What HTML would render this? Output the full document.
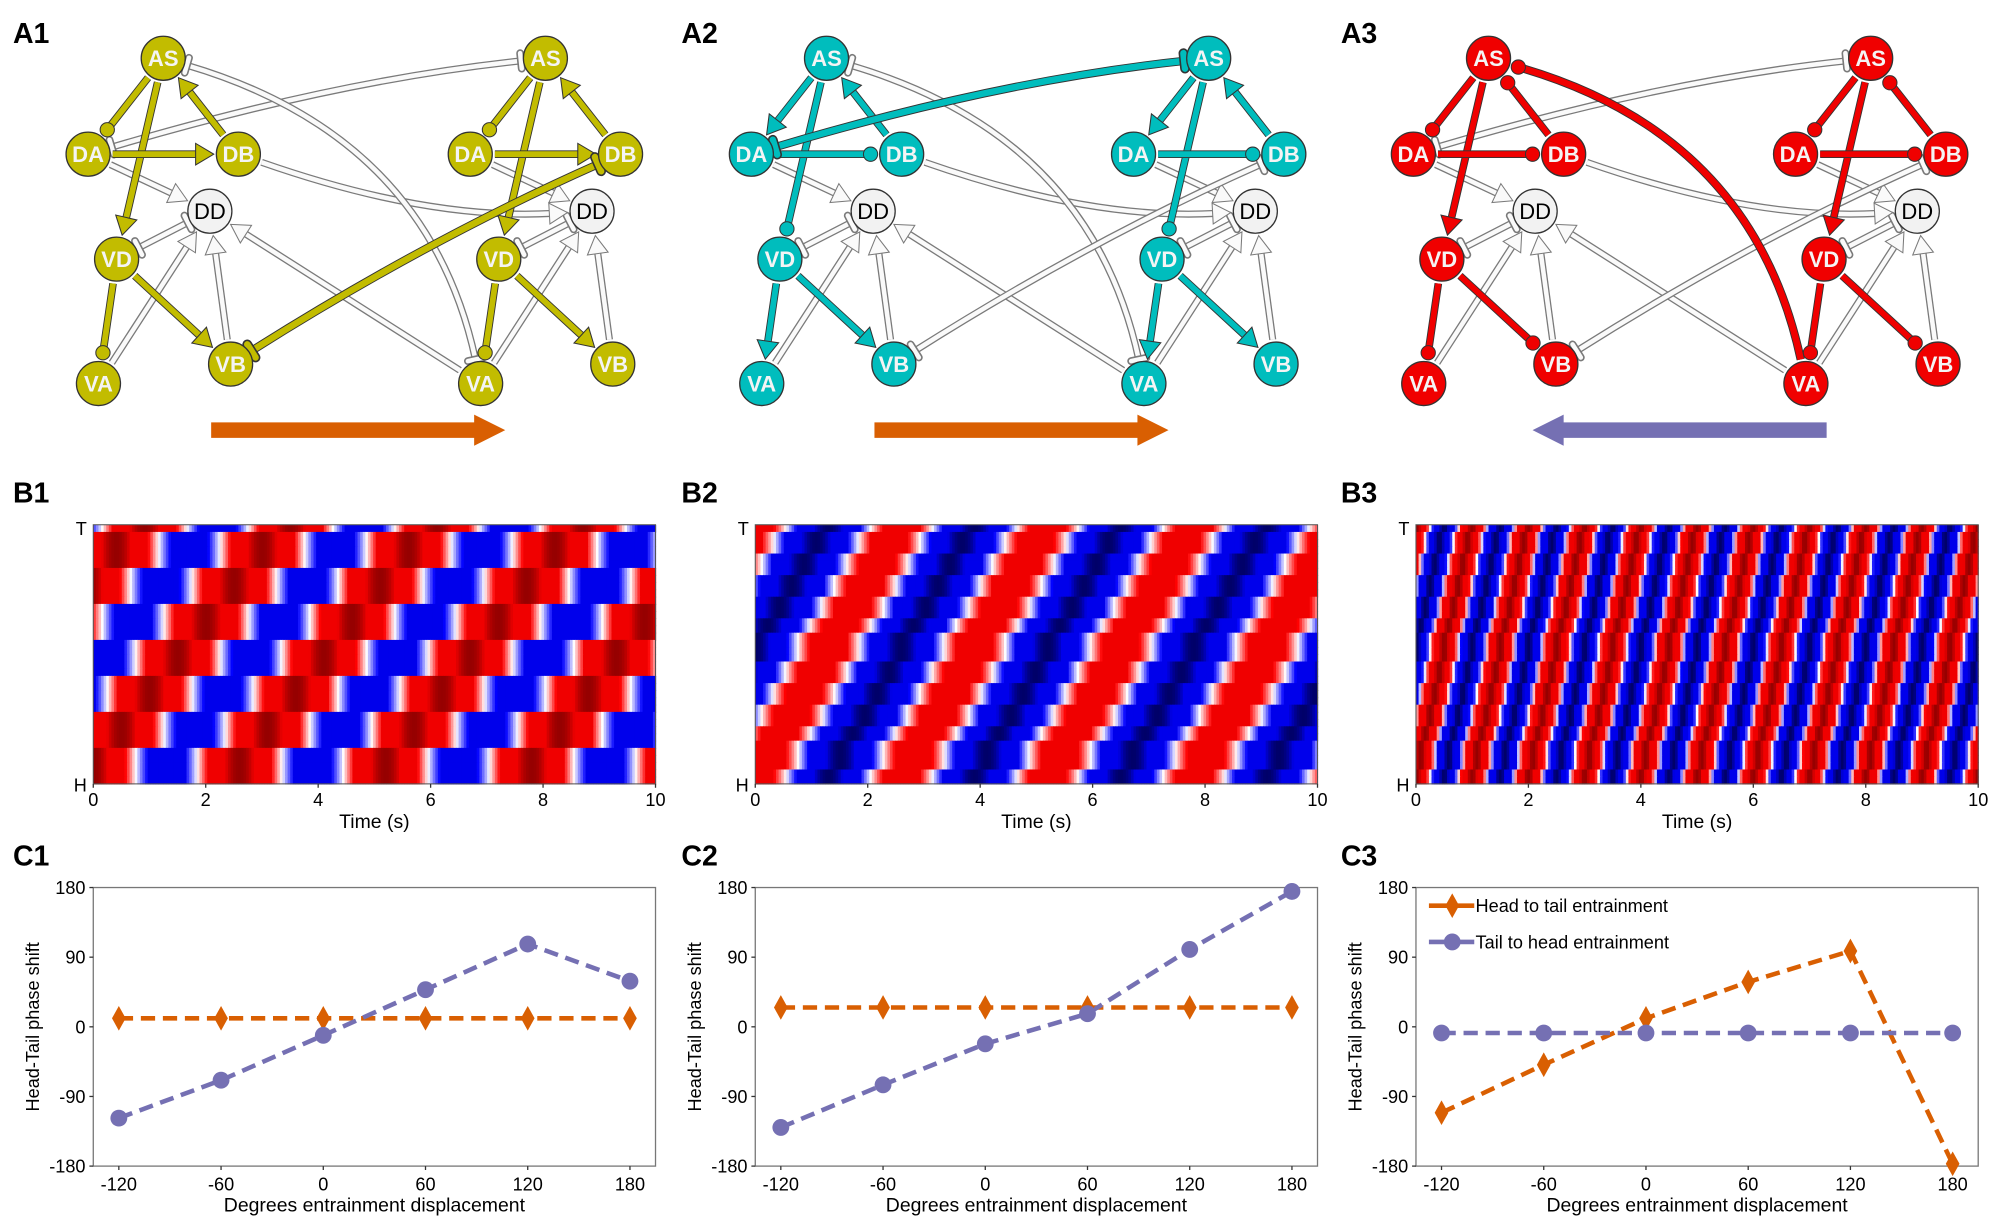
<!DOCTYPE html>
<html><head><meta charset="utf-8">
<style>
html,body{margin:0;padding:0;background:#fff;}
svg{display:block;font-family:"Liberation Sans",sans-serif;}
</style></head>
<body>
<svg id="fig" width="2008" height="1227" viewBox="0 0 1550 947" preserveAspectRatio="none" xmlns="http://www.w3.org/2000/svg">
  <g id="gray-layer"></g>
  <g id="color-layer"></g>
  <g id="node-layer"></g>
  <g id="heat-layer"></g>
  <g id="plot-layer"></g>
  <g id="label-layer" font-weight="bold" font-size="22" fill="#000">
    <text x="10" y="33">A1</text>
    <text x="526" y="33">A2</text>
    <text x="1035" y="33">A3</text>
    <text x="10" y="388">B1</text>
    <text x="526" y="388">B2</text>
    <text x="1035" y="388">B3</text>
    <text x="10" y="668">C1</text>
    <text x="526" y="668">C2</text>
    <text x="1035" y="668">C3</text>
  </g>
</svg>
<script>
// ===== Chart data (C panels) =====
const xCategories = [-120, -60, 0, 60, 120, 180];
const yTickLabels = [180, 90, 0, -90, -180];
const xTickLabels = [-120, -60, 0, 60, 120, 180];
const c1Head = [11, 11, 11, 11, 11, 11];
const c1Tail = [-118, -69, -11, 48, 107, 59];
const c2Head = [25, 25, 25, 25, 25, 25];
const c2Tail = [-130, -75, -22, 17, 100, 175];
const c3Head = [-111, -49, 11, 58, 98, -177];
const c3Tail = [-8, -8, -8, -8, -8, -8];
// ===== Heatmap data (B panels) =====
const heatPeriods = [2.6, 2.6, 1.0];
const heatLags = [1.35, 1.0, 1.0];
const heatSteps = [7, 12, 12];
const heatBias = [0.25, -0.25, 0.0];
const timeTicks = [0, 2, 4, 6, 8, 10];

const NS = "http://www.w3.org/2000/svg";
function mk(tag, attrs, parent) {
  const e = document.createElementNS(NS, tag);
  for (const k in attrs) e.setAttribute(k, attrs[k]);
  if (parent) parent.appendChild(e);
  return e;
}
const colX = [0, 512, 1023];
const gray = document.getElementById('gray-layer');
const colr = document.getElementById('color-layer');
const nodesL = document.getElementById('node-layer');
const heatL = document.getElementById('heat-layer');
const plotL = document.getElementById('plot-layer');

// ===== Network panels =====
const rel = {AS:[0,45], DA:[-58,119], DB:[58,119], DD:[36,163], VD:[-36,200], VA:[-50,296], VB:[52,281]};
const R = 17;
function pos(c, g, n) { return [126 + colX[c] + g * 295 + rel[n][0], rel[n][1]]; }
function unit(ax, ay, bx, by) { const d = Math.hypot(bx-ax, by-ay) || 1; return [(bx-ax)/d, (by-ay)/d]; }

function drawEnd(parent, x, y, ux, uy, end, fill, stroke, w) {
  const px = -uy, py = ux;
  if (end === 'arrow') {
    const L = 14, W = 7 + w * 0.3;
    mk('polygon', {points: `${x},${y} ${x-ux*L+px*W},${y-uy*L+py*W} ${x-ux*L-px*W},${y-uy*L-py*W}`, fill: fill, stroke: stroke, 'stroke-width': 0.8}, parent);
  } else if (end === 'dot') {
    mk('circle', {cx: x-ux*5, cy: y-uy*5, r: 5.5, fill: fill, stroke: stroke, 'stroke-width': 0.8}, parent);
  } else if (end === 'bar') {
    mk('line', {x1: x+px*6, y1: y+py*6, x2: x-px*6, y2: y-py*6, stroke: stroke, 'stroke-width': w+2.5, 'stroke-linecap': 'round'}, parent);
    mk('line', {x1: x+px*6, y1: y+py*6, x2: x-px*6, y2: y-py*6, stroke: fill, 'stroke-width': w, 'stroke-linecap': 'round'}, parent);
  }
}

function edge(parent, a, b, opts) {
  const [ax, ay] = a, [bx, by] = b;
  const cp = opts.cp;
  let u1 = cp ? unit(ax, ay, cp[0], cp[1]) : unit(ax, ay, bx, by);
  let u2 = cp ? unit(cp[0], cp[1], bx, by) : unit(ax, ay, bx, by);
  const gap = R + 2;
  const sx = ax + u1[0]*gap, sy = ay + u1[1]*gap;
  const ex = bx - u2[0]*gap, ey = by - u2[1]*gap;
  const back = opts.end === 'arrow' ? 12 : (opts.end === 'dot' ? 8 : 0);
  const lx = ex - u2[0]*back, ly = ey - u2[1]*back;
  const d = cp ? `M${sx},${sy} Q${cp[0]},${cp[1]} ${lx},${ly}` : `M${sx},${sy} L${lx},${ly}`;
  const g = mk('g', {}, parent);
  
  
  if (opts.gray) {
    mk('path', {d: d, fill: 'none', stroke: '#7a7a7a', 'stroke-width': 5.5}, g);
    mk('path', {d: d, fill: 'none', stroke: '#fafafa', 'stroke-width': 3.5}, g);
    drawEnd(g, ex, ey, u2[0], u2[1], opts.end, '#fafafa', '#7a7a7a', 3.5);
    if (opts.start) drawEnd(g, sx, sy, -u1[0], -u1[1], opts.start, '#fafafa', '#7a7a7a', 3.5);
  } else {
    const w = opts.w || 4.5;
    mk('path', {d: d, fill: 'none', stroke: '#333', 'stroke-width': w + 1.4}, g);
    mk('path', {d: d, fill: 'none', stroke: opts.color, 'stroke-width': w}, g);
    drawEnd(g, ex, ey, u2[0], u2[1], opts.end, opts.color, '#333', w);
    if (opts.start) drawEnd(g, sx, sy, -u1[0], -u1[1], opts.start, opts.color, '#333', w);
  }
}

const colColors = ['#c2bc00', '#00bdbd', '#f00000'];
const colEdges = [
  [['AS','DA','dot'], ['AS','VD','arrow'], ['DB','AS','arrow'], ['DA','DB','arrow'], ['VD','VA','dot'], ['VD','VB','arrow']],
  [['AS','DA','arrow'], ['AS','VD','dot'], ['DB','AS','arrow'], ['DA','DB','dot'], ['VD','VA','arrow'], ['VD','VB','arrow']],
  [['AS','DA','dot'], ['AS','VD','arrow'], ['DB','AS','dot'], ['DA','DB','dot'], ['VD','VA','dot'], ['VD','VB','dot']]
];

for (let c = 0; c < 3; c++) {
  const ox = colX[c];
  for (let g = 0; g < 2; g++) {
    edge(gray, pos(c,g,'DA'), pos(c,g,'DD'), {gray:true, end:'arrow', name:'edge-da-dd'});
    edge(gray, pos(c,g,'DD'), pos(c,g,'VD'), {gray:true, end:'bar', start:'bar', name:'edge-vd-dd'});
    edge(gray, pos(c,g,'VA'), pos(c,g,'DD'), {gray:true, end:'arrow', name:'edge-va-dd'});
    edge(gray, pos(c,g,'VB'), pos(c,g,'DD'), {gray:true, end:'arrow', name:'edge-vb-dd'});
  }
  edge(gray, pos(c,0,'DB'), pos(c,1,'DD'), {gray:true, end:'arrow', cp:[330+ox,170], name:'edge-db-dd-cross'});
  edge(gray, pos(c,1,'VA'), pos(c,0,'DD'), {gray:true, end:'arrow', name:'edge-va-dd-cross'});
  if (c !== 1) edge(gray, pos(c,1,'AS'), pos(c,0,'DA'), {gray:true, end:'bar', start:'bar', cp:[260+ox,62], name:'edge-as-da-cross'});
  if (c !== 2) edge(gray, pos(c,0,'AS'), pos(c,1,'VA'), {gray:true, end:'bar', start:'bar', cp:[330+ox,105], name:'edge-as-va-cross'});
  if (c !== 0) edge(gray, pos(c,0,'VB'), pos(c,1,'DB'), {gray:true, end:'bar', start:'bar', cp:[330+ox,185], name:'edge-vb-db-cross'});

  for (let g = 0; g < 2; g++) {
    for (const e of colEdges[c]) {
      edge(colr, pos(c,g,e[0]), pos(c,g,e[1]), {color: colColors[c], end: e[2], name: 'edge-' + e[0].toLowerCase() + '-' + e[1].toLowerCase()});
    }
  }
  if (c === 0) edge(colr, pos(c,0,'VB'), pos(c,1,'DB'), {color: colColors[0], end:'bar', start:'bar', cp:[330+ox,185], w:5, name:'edge-vb-db-cross'});
  if (c === 1) edge(colr, pos(c,0,'DA'), pos(c,1,'AS'), {color: colColors[1], end:'bar', start:'bar', cp:[260+ox,62], w:5, name:'edge-da-as-cross'});
  if (c === 2) edge(colr, pos(c,1,'VA'), pos(c,0,'AS'), {color: colColors[2], end:'dot', cp:[330+ox,105], w:5, name:'edge-va-as-cross'});

  for (let g = 0; g < 2; g++) {
    for (const n in rel) {
      const [x, y] = pos(c, g, n);
      const ng = mk('g', {}, nodesL);
      
      
      const isDD = n === 'DD';
      mk('circle', {cx: x, cy: y, r: R, fill: isDD ? '#f2f2f2' : colColors[c], stroke: '#333', 'stroke-width': 1}, ng);
      const t = mk('text', {x: x, y: y + 6, 'text-anchor': 'middle', 'font-size': 17, 'font-weight': isDD ? 'normal' : 'bold', fill: isDD ? '#000' : '#f4f4f4'}, ng);
      t.textContent = n;
    }
  }
  const ag = mk('g', {}, nodesL);
  
  
  if (c < 2) {
    mk('polygon', {points: `${163+ox},${326} ${366+ox},${326} ${366+ox},${320} ${390+ox},${332} ${366+ox},${344} ${366+ox},${338} ${163+ox},${338}`, fill: '#d95f02'}, ag);
  } else {
    mk('polygon', {points: `${1410},${326} ${1207},${326} ${1207},${320} ${1183},${332} ${1207},${344} ${1207},${338} ${1410},${338}`, fill: '#7570b3'}, ag);
  }
}

// ===== Heatmaps =====
function cmap(s) {
  let r, g, b;
  if (s >= 0) {
    if (s < 0.35) { const f = s / 0.35; r = 255; g = 255*(1-f); b = 255*(1-f); }
    else if (s < 0.85) { r = 240; g = 0; b = 0; }
    else { const f = Math.min(1, (s-0.85)/0.15); r = 240 - 90*f; g = 0; b = 0; }
  } else {
    const a = -s;
    if (a < 0.35) { const f = a / 0.35; r = 255*(1-f); g = 255*(1-f); b = 255; }
    else if (a < 0.85) { r = 0; g = 0; b = 235; }
    else { const f = Math.min(1, (a-0.85)/0.15); r = 0; g = 0; b = 235 - 130*f; }
  }
  return `rgb(${r|0},${g|0},${b|0})`;
}
const hx0 = [72, 583, 1093], hW = 434, hy0 = 405, hH = 200;
const nRows = 36, nCols = 217;
for (let p = 0; p < 3; p++) {
  const hg = mk('g', {}, heatL);
  
  
  const cw = hW / nCols, ch = hH / nRows;
  for (let i = 0; i < nRows; i++) {
    const frac = i / nRows;
    const seg = Math.floor((1 - frac) * heatSteps[p]) / heatSteps[p];
    for (let j = 0; j < nCols; j++) {
      const t = (j + 0.5) / nCols * 10;
      const v = (Math.cos(2*Math.PI*(t / heatPeriods[p] - heatLags[p]*seg)) + heatBias[p]) / (1 + Math.abs(heatBias[p]));
      const s = Math.max(-1, Math.min(1, v));
      const cell = mk('rect', {x: hx0[p] + j*cw, y: hy0 + i*ch, width: cw + 0.5, height: ch + 0.5, fill: cmap(s)}, hg);
      
      
    }
  }
  mk('rect', {x: hx0[p], y: hy0, width: hW, height: hH, fill: 'none', stroke: '#555', 'stroke-width': 0.8}, hg);
  const tl = mk('text', {x: hx0[p]-5, y: hy0+8, 'text-anchor': 'end', 'font-size': 14}, hg);
  tl.textContent = 'T';
  
  
  const hl = mk('text', {x: hx0[p]-5, y: hy0+hH+6, 'text-anchor': 'end', 'font-size': 14}, hg);
  hl.textContent = 'H';
  
  
  for (const tv of timeTicks) {
    const x = hx0[p] + tv / 10 * hW;
    mk('line', {x1: x, y1: hy0+hH, x2: x, y2: hy0+hH+3, stroke: '#333'}, hg);
    const tt = mk('text', {x: x, y: hy0+hH+17, 'text-anchor': 'middle', 'font-size': 14}, hg);
    tt.textContent = tv;
    
    
  }
  const xt = mk('text', {x: hx0[p] + hW/2, y: hy0+hH+34, 'text-anchor': 'middle', 'font-size': 15}, hg);
  xt.textContent = 'Time (s)';
  
  
}

// ===== Phase plots =====
const px0 = [72, 583, 1093], pW = 434, py0 = 685, pH = 215;
const xMin = -135, xMax = 195, yMin = -180, yMax = 180;
const headSeries = [c1Head, c2Head, c3Head];
const tailSeries = [c1Tail, c2Tail, c3Tail];
const ORANGE = '#d95f02', PURPLE = '#7570b3';
function diamond(parent, x, y) {
  return mk('polygon', {points: `${x},${y-9} ${x+5},${y} ${x},${y+9} ${x-5},${y}`, fill: ORANGE, stroke: ORANGE, 'stroke-width': 0.5}, parent);
}
for (let p = 0; p < 3; p++) {
  const X = v => px0[p] + (v - xMin) / (xMax - xMin) * pW;
  const Y = v => py0 + (yMax - v) / (yMax - yMin) * pH;
  const pg = mk('g', {}, plotL);
  
  
  mk('rect', {x: px0[p], y: py0, width: pW, height: pH, fill: 'none', stroke: '#777', 'stroke-width': 1}, pg);
  for (const yv of yTickLabels) {
    mk('line', {x1: px0[p]-3, y1: Y(yv), x2: px0[p], y2: Y(yv), stroke: '#333'}, pg);
    const t = mk('text', {x: px0[p]-6, y: Y(yv)+5, 'text-anchor': 'end', 'font-size': 14}, pg);
    t.textContent = yv;
    
    
  }
  for (const xv of xTickLabels) {
    mk('line', {x1: X(xv), y1: py0+pH, x2: X(xv), y2: py0+pH+3, stroke: '#333'}, pg);
    const t = mk('text', {x: X(xv), y: py0+pH+19, 'text-anchor': 'middle', 'font-size': 14}, pg);
    t.textContent = xv;
    
    
  }
  const xt = mk('text', {x: px0[p]+pW/2, y: py0+pH+35, 'text-anchor': 'middle', 'font-size': 15}, pg);
  xt.textContent = 'Degrees entrainment displacement';
  
  
  const yt = mk('text', {x: 0, y: 0, 'text-anchor': 'middle', 'font-size': 14, transform: `translate(${px0[p]-42},${py0+pH/2}) rotate(-90)`}, pg);
  yt.textContent = 'Head-Tail phase shift';
  
  

  const hd = headSeries[p], tl = tailSeries[p];
  const hp = xCategories.map((x, i) => `${X(x)},${Y(hd[i])}`).join(' ');
  const tp = xCategories.map((x, i) => `${X(x)},${Y(tl[i])}`).join(' ');
  const hLine = mk('polyline', {points: hp, fill: 'none', stroke: ORANGE, 'stroke-width': 3.5, 'stroke-dasharray': '11 6'}, pg);
  
  
  const tLine = mk('polyline', {points: tp, fill: 'none', stroke: PURPLE, 'stroke-width': 3.5, 'stroke-dasharray': '11 6'}, pg);
  
  
  xCategories.forEach((x, i) => {
    const d = diamond(pg, X(x), Y(hd[i]));
    
    
    const c = mk('circle', {cx: X(x), cy: Y(tl[i]), r: 6.5, fill: PURPLE}, pg);
    
    
  });
  if (p === 2) {
    const lg = mk('g', {}, pg);
    
    
    const e1 = mk('g', {}, lg);
    
    
    mk('line', {x1: 1103, y1: 699, x2: 1138, y2: 699, stroke: ORANGE, 'stroke-width': 3.5}, e1);
    diamond(e1, 1121, 699);
    const l1 = mk('text', {x: 1139, y: 704, 'font-size': 14}, e1);
    l1.textContent = 'Head to tail entrainment';
    const e2 = mk('g', {}, lg);
    
    
    mk('line', {x1: 1103, y1: 727, x2: 1138, y2: 727, stroke: PURPLE, 'stroke-width': 3.5}, e2);
    mk('circle', {cx: 1121, cy: 727, r: 6.5, fill: PURPLE}, e2);
    const l2 = mk('text', {x: 1139, y: 732, 'font-size': 14}, e2);
    l2.textContent = 'Tail to head entrainment';
  }
}
</script>
</body></html>
